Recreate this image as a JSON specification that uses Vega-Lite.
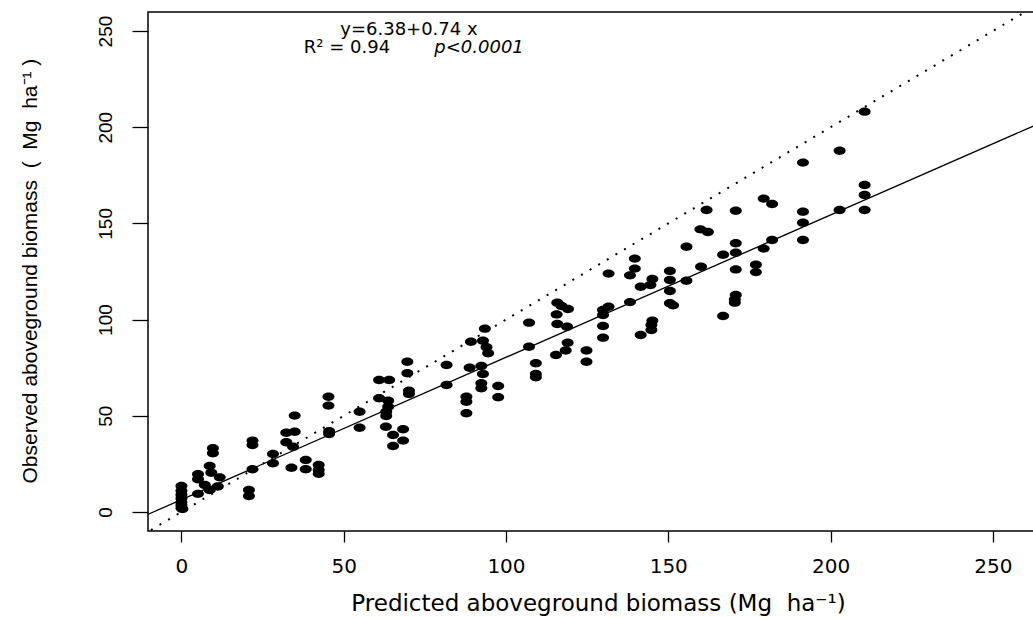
{
  "$schema": "https://vega.github.io/schema/vega-lite/v6.json",
  "width": 900,
  "height": 519,
  "autosize": {"type": "none"},
  "padding": {"left": 148, "top": 12, "right": 0, "bottom": 87},
  "background": "white",
  "config": {"view": {"stroke": "black", "strokeWidth": 1.5}},
  "layer": [
    {
      "data": {"values": [
        {"x":210.5,"y":208.1},{"x":202.8,"y":187.8},{"x":191.5,"y":181.6},{"x":210.5,"y":170.0},{"x":210.5,"y":164.8},{"x":210.5,"y":157.0},{"x":202.8,"y":157.0},{"x":191.5,"y":156.1},{"x":191.5,"y":150.4},{"x":191.5,"y":141.4},
        {"x":179.4,"y":162.9},{"x":182.0,"y":160.1},{"x":182.0,"y":141.4},{"x":179.4,"y":136.9},{"x":177.0,"y":128.5},{"x":177.0,"y":124.7},{"x":170.8,"y":156.6},{"x":161.8,"y":157.0},{"x":159.9,"y":146.9},{"x":162.2,"y":145.5},
        {"x":155.6,"y":137.9},{"x":170.8,"y":139.7},{"x":170.8,"y":134.8},{"x":166.9,"y":133.7},{"x":170.8,"y":126.1},{"x":160.1,"y":127.5},{"x":155.6,"y":120.2},{"x":150.5,"y":125.3},{"x":150.5,"y":120.6},{"x":150.5,"y":114.9},
        {"x":150.5,"y":108.5},{"x":151.5,"y":107.4},{"x":170.8,"y":112.8},{"x":170.5,"y":110.5},{"x":170.5,"y":108.8},{"x":166.9,"y":101.9},{"x":145.1,"y":121.1},{"x":144.5,"y":118.0},{"x":141.5,"y":117.1},{"x":139.7,"y":131.7},
        {"x":139.7,"y":126.5},{"x":138.2,"y":123.0},{"x":138.2,"y":109.1},{"x":131.6,"y":123.9},{"x":131.6,"y":106.7},{"x":129.9,"y":105.0},{"x":129.9,"y":102.4},{"x":129.9,"y":96.7},{"x":129.9,"y":90.6},{"x":145.1,"y":99.4},
        {"x":144.8,"y":97.2},{"x":144.8,"y":94.6},{"x":141.5,"y":92.0},{"x":124.8,"y":83.9},{"x":124.8,"y":78.1},{"x":119.0,"y":88.0},{"x":118.4,"y":83.9},{"x":115.4,"y":81.6},{"x":118.8,"y":96.3},{"x":115.8,"y":97.7},
        {"x":115.6,"y":102.7},{"x":115.8,"y":108.8},{"x":117.1,"y":107.1},{"x":119.1,"y":105.5},{"x":107.1,"y":98.4},{"x":107.1,"y":85.9},{"x":109.2,"y":77.3},{"x":109.2,"y":71.7},{"x":109.2,"y":70.0},{"x":93.5,"y":95.3},
        {"x":92.9,"y":89.0},{"x":94.0,"y":85.6},{"x":94.5,"y":82.5},{"x":92.4,"y":75.9},{"x":92.9,"y":71.7},{"x":92.4,"y":66.9},{"x":92.4,"y":64.3},{"x":97.6,"y":65.5},{"x":97.6,"y":59.6},
        {"x":89.2,"y":88.5},{"x":81.7,"y":76.4},{"x":88.8,"y":75.0},{"x":87.8,"y":59.9},{"x":87.8,"y":57.3},{"x":87.8,"y":51.3},{"x":81.7,"y":66.0},{"x":69.6,"y":78.1},{"x":69.6,"y":72.1},{"x":70.1,"y":63.0},
        {"x":70.1,"y":61.3},{"x":60.9,"y":68.6},{"x":64.0,"y":68.6},{"x":60.9,"y":59.1},{"x":63.7,"y":57.8},{"x":63.7,"y":54.7},{"x":63.1,"y":52.1},{"x":63.1,"y":49.9},{"x":63.0,"y":44.3},{"x":65.2,"y":40.0},
        {"x":65.2,"y":34.3},{"x":68.3,"y":43.0},{"x":68.3,"y":37.1},{"x":54.9,"y":52.1},{"x":54.9,"y":43.8},{"x":45.3,"y":59.9},{"x":45.3,"y":55.3},{"x":45.5,"y":40.5},{"x":45.5,"y":42.0},{"x":34.9,"y":50.1},
        {"x":32.3,"y":41.2},{"x":34.9,"y":41.7},{"x":32.3,"y":36.2},{"x":34.4,"y":33.9},{"x":33.9,"y":23.0},{"x":28.2,"y":30.1},{"x":28.2,"y":25.3},{"x":38.3,"y":27.0},{"x":38.3,"y":22.2},{"x":42.3,"y":24.4},
        {"x":42.3,"y":21.8},{"x":42.3,"y":19.8},{"x":21.9,"y":37.1},{"x":21.9,"y":34.8},{"x":21.9,"y":22.2},{"x":20.8,"y":11.4},{"x":20.8,"y":8.3},{"x":9.7,"y":33.1},{"x":9.7,"y":30.5},{"x":8.7,"y":23.9},
        {"x":9.2,"y":20.4},{"x":11.8,"y":18.0},{"x":5.1,"y":19.6},{"x":5.1,"y":17.0},{"x":7.2,"y":14.0},{"x":8.7,"y":11.4},{"x":11.2,"y":13.2},{"x":5.1,"y":9.4},{"x":0,"y":13.5},{"x":0,"y":11},
        {"x":0,"y":9},{"x":0,"y":7},{"x":0,"y":5},{"x":0,"y":3.5},{"x":0,"y":2},{"x":0.3,"y":1.5}
      ]},
      "mark": {"type": "point", "filled": true, "shape": "M -1 0 A 1 0.7 0 1 0 1 0 A 1 0.7 0 1 0 -1 0 Z", "size": 144, "color": "black", "opacity": 1},
      "encoding": {
        "x": {"field": "x", "type": "quantitative",
          "scale": {"domain": [-10.3, 267], "nice": false, "zero": false},
          "axis": {"title": "Predicted aboveground biomass (Mg\u00a0\u00a0ha⁻¹)", "values": [0, 50, 100, 150, 200, 250], "domain": false, "grid": false,
            "tickSize": 11, "tickColor": "black", "tickWidth": 1.3, "labelFlush": false, "labelOverlap": false,
            "labelFont": "DejaVu Sans", "labelFontSize": 20, "labelColor": "black", "labelBaseline": "alphabetic", "labelPadding": 30,
            "titleFont": "DejaVu Sans", "titleFontSize": 23, "titleFontWeight": "normal", "titleColor": "black", "titleBaseline": "alphabetic", "titleY": 79}},
        "y": {"field": "y", "type": "quantitative",
          "scale": {"domain": [-9.9, 259.9], "nice": false, "zero": false},
          "axis": {"title": "Observed aboveground biomass\u00a0\u00a0(\u00a0\u00a0Mg\u00a0\u00a0ha⁻¹\u00a0)", "values": [0, 50, 100, 150, 200, 250], "domain": false, "grid": false,
            "tickSize": 16, "tickColor": "black", "tickWidth": 1.3, "labelFlush": false, "labelOverlap": false,
            "labelAngle": -90, "labelAlign": "center", "labelBaseline": "alphabetic", "labelPadding": 21,
            "labelFont": "Liberation Sans", "labelFontSize": 19, "labelColor": "black",
            "titleFont": "Liberation Sans", "titleFontSize": 21, "titleFontWeight": "normal", "titleColor": "black",
            "titleAngle": -90, "titleAlign": "left", "titleBaseline": "alphabetic", "titleX": -112, "titleY": 471}}
      }
    },
    {
      "data": {"values": [{"x": -20, "y": -8.42}, {"x": 280, "y": 213.58}]},
      "mark": {"type": "line", "clip": true, "color": "black", "strokeWidth": 1.3},
      "encoding": {
        "x": {"field": "x", "type": "quantitative", "scale": {"domain": [-10.3, 267], "nice": false, "zero": false}},
        "y": {"field": "y", "type": "quantitative", "scale": {"domain": [-9.9, 259.9], "nice": false, "zero": false}}
      }
    },
    {
      "data": {"values": [{"x": -20, "y": -20}, {"x": 280, "y": 280}]},
      "mark": {"type": "line", "clip": true, "color": "black", "strokeWidth": 2, "strokeDash": [2, 8], "strokeCap": "butt"},
      "encoding": {
        "x": {"field": "x", "type": "quantitative", "scale": {"domain": [-10.3, 267], "nice": false, "zero": false}},
        "y": {"field": "y", "type": "quantitative", "scale": {"domain": [-9.9, 259.9], "nice": false, "zero": false}}
      }
    },
    {
      "data": {"values": [{"t": "y=6.38+0.74 x"}]},
      "mark": {"type": "text", "font": "DejaVu Sans", "fontSize": 18, "align": "center", "baseline": "alphabetic", "color": "black"},
      "encoding": {"x": {"datum": 70.1, "type": "quantitative"}, "y": {"datum": 247.9, "type": "quantitative"}, "text": {"field": "t"}}
    },
    {
      "data": {"values": [{"t": "R² = 0.94"}]},
      "mark": {"type": "text", "font": "DejaVu Sans", "fontSize": 18, "align": "center", "baseline": "alphabetic", "color": "black"},
      "encoding": {"x": {"datum": 51.0, "type": "quantitative"}, "y": {"datum": 238.6, "type": "quantitative"}, "text": {"field": "t"}}
    },
    {
      "data": {"values": [{"t": "p<0.0001"}]},
      "mark": {"type": "text", "font": "DejaVu Sans", "fontSize": 18, "fontStyle": "italic", "align": "center", "baseline": "alphabetic", "color": "black"},
      "encoding": {"x": {"datum": 91.7, "type": "quantitative"}, "y": {"datum": 238.6, "type": "quantitative"}, "text": {"field": "t"}}
    }
  ]
}
